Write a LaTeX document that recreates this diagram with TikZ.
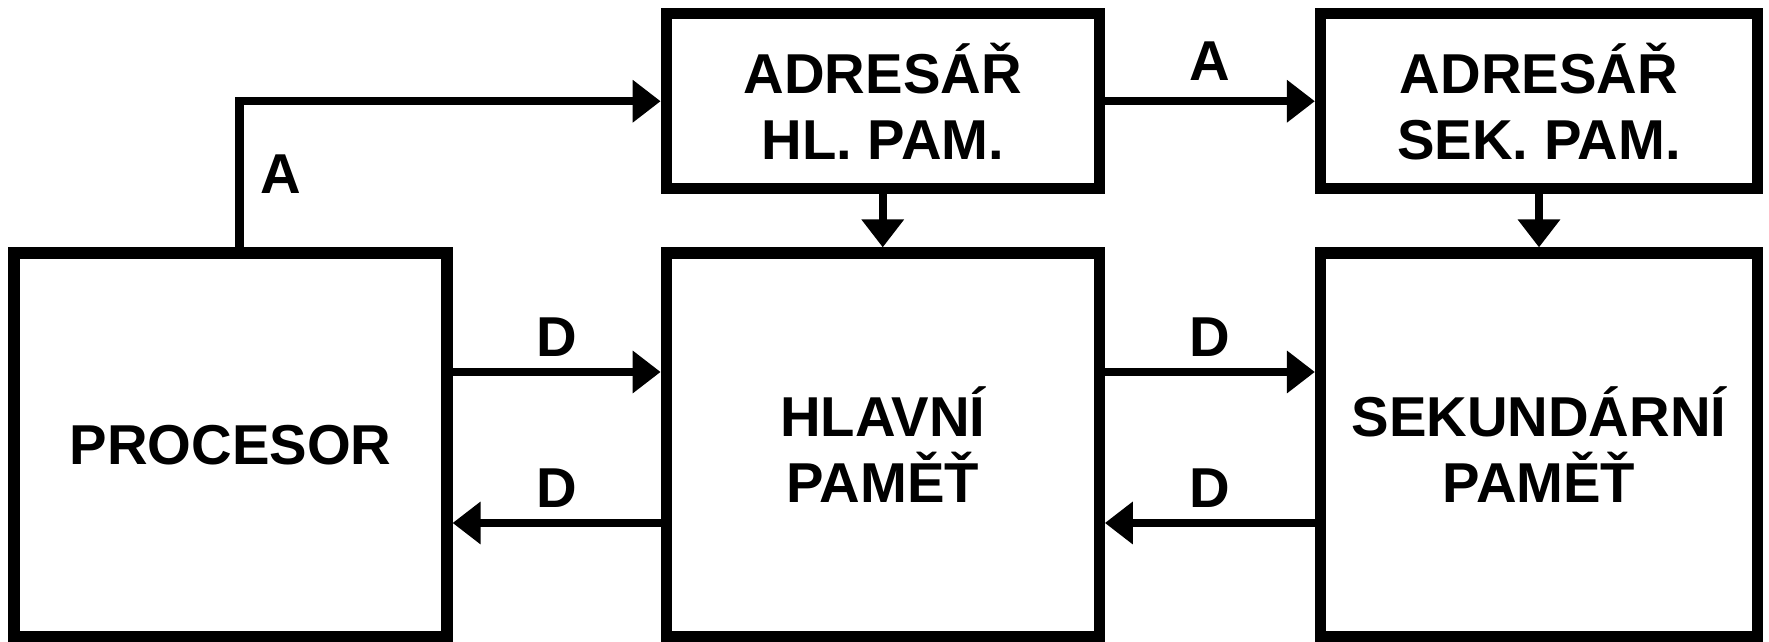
\documentclass[tikz,border=0pt]{standalone}
\usepackage{fontspec}
\setmainfont{Liberation Sans}
\usepackage{tikz}
\usetikzlibrary{arrows.meta,positioning}
\tikzset{
  unit/.style={draw=black,line width=3.2pt,align=center,inner sep=0pt,
    minimum height=3.84cm,font=\bfseries\fontsize{16}{18.8}\selectfont},
  dirbox/.style={unit,minimum height=1.75cm},
  arrow/.style={-{Triangle[length=2.8mm,width=4.1mm]},draw=black,line width=2.4pt},
  buslabel/.style={font=\bfseries\fontsize{16}{18.8}\selectfont}
}

\begin{document}
\begin{tikzpicture}
      \useasboundingbox (0,0) rectangle (17.69,6.42);
      \node[unit,minimum width=4.33cm] (procesor) at (2.305,1.97) {PROCESOR};
      \node[unit,minimum width=4.33cm,right=2.08cm of procesor] (hlavni) {HLAVNÍ\\PAMĚŤ};
      \node[unit,minimum width=4.37cm,right=2.10cm of hlavni] (sekundarni) {SEKUNDÁRNÍ\\PAMĚŤ};
      \node[dirbox,minimum width=4.33cm,above=0.53cm of hlavni] (adrhl) {ADRESÁŘ\\HL. PAM.};
      \node[dirbox,minimum width=4.37cm,above=0.53cm of sekundarni] (adrsek) {ADRESÁŘ\\SEK. PAM.};
      % adresy
      \draw[arrow] ([xshift=0.9mm]procesor.north) |- node[buslabel,pos=0.25,right=0.5mm] {A} (adrhl.west);
      \draw[arrow] (adrhl.east) -- node[buslabel,above=0.5mm] {A} (adrsek.west);
      \draw[arrow] (adrhl.south) -- (hlavni.north);
      \draw[arrow] (adrsek.south) -- (sekundarni.north);
      % data
      \draw[arrow] ([yshift=7.3mm]procesor.east) -- node[buslabel,above] {D} ([yshift=7.3mm]hlavni.west);
      \draw[arrow] ([yshift=-7.8mm]hlavni.west) -- node[buslabel,above] {D} ([yshift=-7.8mm]procesor.east);
      \draw[arrow] ([yshift=7.3mm]hlavni.east) -- node[buslabel,above] {D} ([yshift=7.3mm]sekundarni.west);
      \draw[arrow] ([yshift=-7.8mm]sekundarni.west) -- node[buslabel,above] {D} ([yshift=-7.8mm]hlavni.east);
    \end{tikzpicture}
\end{document}
